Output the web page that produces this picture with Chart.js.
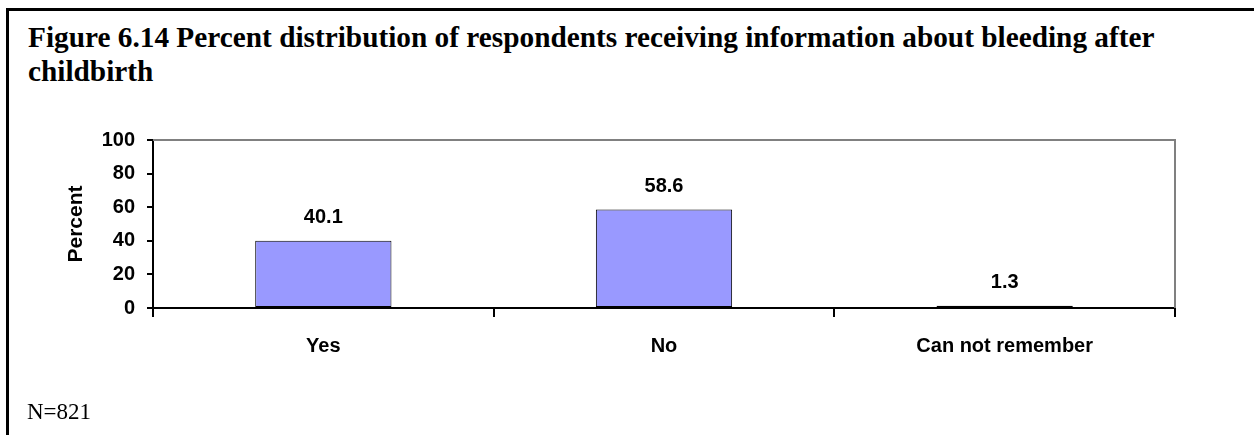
<!DOCTYPE html>
<html>
<head>
<meta charset="utf-8">
<script src="https://cdn.jsdelivr.net/npm/chart.js@4"></script>
<style>
  html, body { margin: 0; padding: 0; background: #fff; }
  #wrap { position: relative; width: 1254px; height: 435px; overflow: hidden; }
  #frame { position: absolute; left: 6px; top: 8px; right: -10px; bottom: -10px;
           border-top: 3px solid #000; border-left: 3px solid #000; }
  #title { position: absolute; left: 28px; top: 20px; white-space: nowrap;
           font: bold 29.3px/34px "Liberation Serif", "Times New Roman", serif; color: #000; }
  #note { position: absolute; left: 27px; top: 400px;
          font: 23px/23px "Liberation Serif", "Times New Roman", serif; color: #000; }
  #chartBox { position: absolute; left: 0; top: 0; width: 1254px; height: 435px; }
</style>
</head>
<body>
<div id="wrap">
  <div id="frame"></div>
  <div id="title">Figure 6.14 Percent distribution of respondents receiving information about bleeding after<br>childbirth</div>
  <div id="chartBox"><canvas id="chart"></canvas></div>
  <div id="note">N=821</div>
</div>
<script>
// --- Data ---
const categories = ['Yes', 'No', 'Can not remember'];
const percentValues = [40.1, 58.6, 1.3];
const yTicks = [0, 20, 40, 60, 80, 100];

const BAR_COLOR = '#9999FF';
const FONT = '"Liberation Sans", Arial, sans-serif';

// gray frame on top/right of plot area
const plotFrame = {
    id: 'plotFrame',
    afterDraw(chart) {
        const { ctx, chartArea: a } = chart;
        ctx.save();
        ctx.strokeStyle = '#808080';
        ctx.lineWidth = 2;
        ctx.beginPath();
        ctx.moveTo(a.left, a.top);
        ctx.lineTo(a.right, a.top);
        ctx.lineTo(a.right, a.bottom);
        ctx.stroke();
        ctx.restore();
    }
};

// value labels above bars
const valueLabels = {
    id: 'valueLabels',
    afterDatasetsDraw(chart) {
        const { ctx } = chart;
        const meta = chart.getDatasetMeta(0);
        ctx.save();
        ctx.font = 'bold 20px ' + FONT;
        ctx.fillStyle = '#000';
        ctx.textAlign = 'center';
        ctx.textBaseline = 'middle';
        meta.data.forEach((bar, i) => {
            ctx.fillText(percentValues[i].toFixed(1), bar.x, bar.y - 23);
        });
        ctx.restore();
    }
};

new Chart(document.getElementById('chart'), {
    type: 'bar',
    data: {
        labels: categories,
        datasets: [{
            data: percentValues,
            backgroundColor: BAR_COLOR,
            borderColor: '#000',
            borderWidth: 1,
            borderSkipped: false,
            barPercentage: 0.4,
            categoryPercentage: 1.0
        }]
    },
    options: {
        responsive: true,
        maintainAspectRatio: false,
        animation: false,
        layout: { padding: { left: 60, top: 140, right: 79, bottom: 0 } },
        plugins: {
            legend: { display: false },
            tooltip: { enabled: false }
        },
        scales: {
            x: {
                grid: { drawOnChartArea: false, drawTicks: true, tickLength: 9, color: '#000', lineWidth: 2 },
                border: { color: '#000', width: 2 },
                ticks: { color: '#000', font: { family: FONT, size: 20, weight: 'bold' }, padding: 17, maxRotation: 0 },
                afterFit(scale) { scale.height = 127; }
            },
            y: {
                min: 0,
                max: 100,
                afterBuildTicks(scale) { scale.ticks = yTicks.map(v => ({ value: v })); },
                grid: { drawOnChartArea: false, drawTicks: true, tickLength: 6, color: '#000', lineWidth: 2 },
                border: { color: '#000', width: 2 },
                ticks: { color: '#000', font: { family: FONT, size: 20, weight: 'bold' }, padding: 12 },
                title: {
                    display: true,
                    text: 'Percent',
                    color: '#000',
                    font: { family: FONT, size: 21, weight: 'bold' },
                    padding: { top: 4, bottom: 4 }
                },
                afterFit(scale) { scale.width = 93; }
            }
        }
    },
    plugins: [plotFrame, valueLabels]
});
</script>
</body>
</html>
